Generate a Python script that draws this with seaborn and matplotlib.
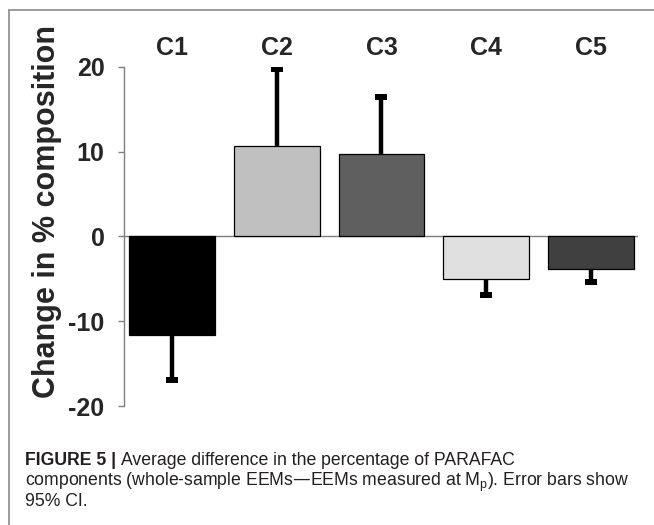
import matplotlib
matplotlib.use("Agg")
import matplotlib.pyplot as plt
from matplotlib.lines import Line2D
import seaborn as sns
import pandas as pd

# ---- data ----
components = ["C1", "C2", "C3", "C4", "C5"]
mean_change = [-11.6, 10.7, 9.7, -5.0, -3.9]
ci_halfwidth = [5.3, 9.0, 6.7, 1.9, 1.5]
bar_colors = ["#000000", "#c0c0c0", "#5f5f5f", "#e0e0e0", "#404040"]
y_ticks = [-20, -10, 0, 10, 20]

sns.set_theme(style="white")
plt.rcParams["font.family"] = ["Liberation Sans", "DejaVu Sans"]

df = pd.DataFrame({"component": components, "change": mean_change})

fig = plt.figure(figsize=(6.54, 5.25), dpi=100)
W, H = 654, 525
ax_left, ax_right = 124, 638
ax_top, ax_bottom = 66.7, 406
ax = fig.add_axes([ax_left / W, 1 - ax_bottom / H, (ax_right - ax_left) / W, (ax_bottom - ax_top) / H])
ax.patch.set_alpha(0)

sns.barplot(data=df, x="component", y="change", hue="component",
            palette=bar_colors, legend=False, width=0.82,
            edgecolor="black", linewidth=0.9, errorbar=None, ax=ax, zorder=2)

# one-sided error bars (away from zero)
xs = list(range(len(components)))
ends = [v + (c if v >= 0 else -c) for v, c in zip(mean_change, ci_halfwidth)]
ax.vlines(xs, mean_change, ends, colors="black", linewidth=3.2, zorder=3)
ax.plot(xs, ends, linestyle="none", marker="_", markersize=8, markeredgewidth=4.3,
        color="black", zorder=3)

ax.axhline(0, color="#7f7f7f", linewidth=1.0, zorder=1)

ax.set_ylim(-20, 20)
ax.set_xlim(-0.457, 4.448)
ax.set_yticks(y_ticks)
ax.set_yticklabels([str(t) for t in y_ticks], fontsize=18, fontweight="bold")
ax.tick_params(axis="y", which="major", left=True, length=4, width=1, color="#7f7f7f", pad=10)

ax.xaxis.set_ticks_position("top")
ax.tick_params(axis="x", top=True, bottom=False, length=0, pad=5, labelsize=18,
               labeltop=True, labelbottom=False)
for lab in ax.get_xticklabels():
    lab.set_fontweight("bold")
ax.set_xlabel("")
ax.set_ylabel("")

for s in ["top", "right", "bottom"]:
    ax.spines[s].set_visible(False)
ax.spines["left"].set_color("#7f7f7f")
ax.spines["left"].set_linewidth(1.0)

fig.text(55 / W, 1 - 211 / H, "Change in % composition", rotation=90, fontsize=22,
         fontweight="bold", ha="center", va="baseline", rotation_mode="anchor")

# frame lines of the figure panel
fig.add_artist(Line2D([9 / W, 1], [1 - 10 / H, 1 - 10 / H], color="#8a8a8a", lw=1.2))
fig.add_artist(Line2D([9 / W, 9 / W], [1 - 10 / H, 0], color="#8a8a8a", lw=1.2))

# caption
cap_color = "#231f20"
cap_size = 12.7
cap_font = ["Liberation Sans", "DejaVu Sans"]
x0 = 25 / W
t1 = fig.text(x0, 1 - 465 / H, "FIGURE 5 | ", fontsize=cap_size, fontweight="bold",
              color=cap_color, va="baseline", ha="left", family=cap_font)
fig.canvas.draw()
r = fig.canvas.get_renderer()
bb = t1.get_window_extent(renderer=r)
fig.text(bb.x1 / W, 1 - 465 / H, "Average difference in the percentage of PARAFAC",
         fontsize=cap_size, color=cap_color, va="baseline", ha="left", family=cap_font)
fig.text(x0, 1 - 485.5 / H,
         r"components (whole-sample EEMs—EEMs measured at M$_\mathregular{p}$). Error bars show",
         fontsize=cap_size, color=cap_color, va="baseline", ha="left", family=cap_font)
fig.text(x0, 1 - 506 / H, "95% CI.", fontsize=cap_size, color=cap_color,
         va="baseline", ha="left", family=cap_font)

fig.savefig("out.png", dpi=100)
